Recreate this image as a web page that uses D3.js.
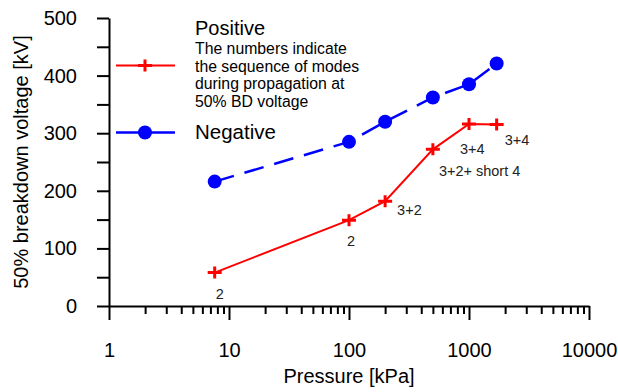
<!DOCTYPE html>
<html>
<head>
<meta charset="utf-8">
<script src="https://cdn.jsdelivr.net/npm/d3@7"></script>
<style>
  body { margin: 0; background: #fff; }
  svg { display: block; font-family: "Liberation Sans", Arial, sans-serif; }
</style>
</head>
<body>
<div id="chart"></div>
<script>
// Data
const pressure = [7.6, 100, 200, 500, 1000, 1700]
const positiveKV = [58, 149, 182, 272, 316, 315]
const negativeKV = [216, 285, 320, 362, 385, 421]
const positiveModes = ["2", "2", "3+2", "3+2+ short 4", "3+4", "3+4"]
const xMajorTicks = [1, 10, 100, 1000, 10000]
const yTicks = [0, 50, 100, 150, 200, 250, 300, 350, 400, 450, 500]
const legendNote = ["The numbers indicate", "the sequence of modes", "during propagation at", "50% BD voltage"]

const width = 618
const height = 392

const svg = d3.select("#chart")
  .append("svg")
  .attr("width", width)
  .attr("height", height)

const x = d3.scaleLog().domain([1, 10000]).range([109, 589])
const y = d3.scaleLinear().domain([0, 500]).range([306, 18])

// minor ticks for log axis: 2..9 in each decade
const xAllTicks = []
for (let dec = 1; dec < 10000; dec *= 10) {
  for (let k = 1; k < 10; k++) xAllTicks.push(dec * k)
}
xAllTicks.push(10000)

// X axis
const xAxis = svg.append("g")
  .attr("transform", `translate(0,${y(0)})`)
  .call(d3.axisBottom(x)
    .tickValues(xAllTicks)
    .tickSize(14)
    .tickPadding(23)
    .tickSizeOuter(0)
    .tickFormat(d => xMajorTicks.includes(d) ? d3.format("d")(d) : ""))

xAxis.select(".domain").attr("stroke-width", 2)
xAxis.selectAll(".tick line")
  .attr("stroke-width", 2)
  .attr("y2", d => xMajorTicks.includes(d) ? 14 : 8)
xAxis.selectAll(".tick text")
  .attr("font-size", 20)
  .attr("fill", "#000")

// Y axis
const yAxis = svg.append("g")
  .attr("transform", `translate(${x(1)},0)`)
  .call(d3.axisLeft(y)
    .tickValues(yTicks)
    .tickSize(12)
    .tickPadding(20)
    .tickSizeOuter(0)
    .tickFormat(d => d % 100 === 0 ? d : ""))

yAxis.select(".domain").attr("stroke-width", 2)
yAxis.selectAll(".tick line").attr("stroke-width", 2)
yAxis.selectAll(".tick text")
  .attr("font-size", 20)
  .attr("fill", "#000")

// Axis titles
svg.append("text")
  .attr("x", 349)
  .attr("y", 383)
  .attr("text-anchor", "middle")
  .attr("font-size", 20)
  .text("Pressure [kPa]")

svg.append("text")
  .attr("transform", `translate(28,162) rotate(-90)`)
  .attr("text-anchor", "middle")
  .attr("font-size", 20)
  .text("50% breakdown voltage [kV]")

const plus = "M-7,0H7M0,-6V6"

// Negative series (blue, dashed, circles)
const negPts = pressure.map((p, i) => [x(p), y(negativeKV[i])])
svg.append("path")
  .attr("d", d3.line()(negPts))
  .attr("fill", "none")
  .attr("stroke", "#0000ff")
  .attr("stroke-width", 2.5)
  .attr("stroke-dasharray", "20,11")

svg.selectAll(".neg-pt")
  .data(negPts)
  .enter()
  .append("circle")
  .attr("class", "neg-pt")
  .attr("cx", d => d[0])
  .attr("cy", d => d[1])
  .attr("r", 7)
  .attr("fill", "#0000ff")

// Positive series (red, solid, plus markers)
const posPts = pressure.map((p, i) => [x(p), y(positiveKV[i])])
svg.append("path")
  .attr("d", d3.line()(posPts))
  .attr("fill", "none")
  .attr("stroke", "#ff0000")
  .attr("stroke-width", 2)

svg.selectAll(".pos-pt")
  .data(posPts)
  .enter()
  .append("path")
  .attr("class", "pos-pt")
  .attr("d", plus)
  .attr("transform", d => `translate(${d[0]},${d[1]})`)
  .attr("fill", "none")
  .attr("stroke", "#ff0000")
  .attr("stroke-width", 3)

// Mode annotations: offset relative to each point
const modeOffsets = [[5, 26], [2, 26], [12, 14], [6, 27], [-9, 30], [8, 20]]
svg.selectAll(".mode")
  .data(positiveModes)
  .enter()
  .append("text")
  .attr("class", "mode")
  .attr("x", (d, i) => posPts[i][0] + modeOffsets[i][0])
  .attr("y", (d, i) => posPts[i][1] + modeOffsets[i][1])
  .attr("text-anchor", (d, i) => i < 2 ? "middle" : "start")
  .attr("font-size", 14.5)
  .attr("fill", "#222")
  .text(d => d)

// Legend
const legend = svg.append("g")
legend.append("line")
  .attr("x1", 116).attr("x2", 175)
  .attr("y1", 65.5).attr("y2", 65.5)
  .attr("stroke", "#ff0000")
  .attr("stroke-width", 2)
legend.append("path")
  .attr("d", plus)
  .attr("transform", "translate(145,65.5)")
  .attr("fill", "none")
  .attr("stroke", "#ff0000")
  .attr("stroke-width", 3)
legend.append("text")
  .attr("x", 195).attr("y", 35)
  .attr("font-size", 20)
  .text("Positive")
legend.selectAll(".note")
  .data(legendNote)
  .enter()
  .append("text")
  .attr("class", "note")
  .attr("x", 195)
  .attr("y", (d, i) => 54 + i * 17.6)
  .attr("font-size", 15.8)
  .text(d => d)

legend.append("line")
  .attr("x1", 116).attr("x2", 175)
  .attr("y1", 132.5).attr("y2", 132.5)
  .attr("stroke", "#0000ff")
  .attr("stroke-width", 2.5)
  .attr("stroke-dasharray", "23,6,30")
legend.append("circle")
  .attr("cx", 145).attr("cy", 132.5)
  .attr("r", 7)
  .attr("fill", "#0000ff")
legend.append("text")
  .attr("x", 195).attr("y", 139)
  .attr("font-size", 20.5)
  .text("Negative")
</script>
</body>
</html>
